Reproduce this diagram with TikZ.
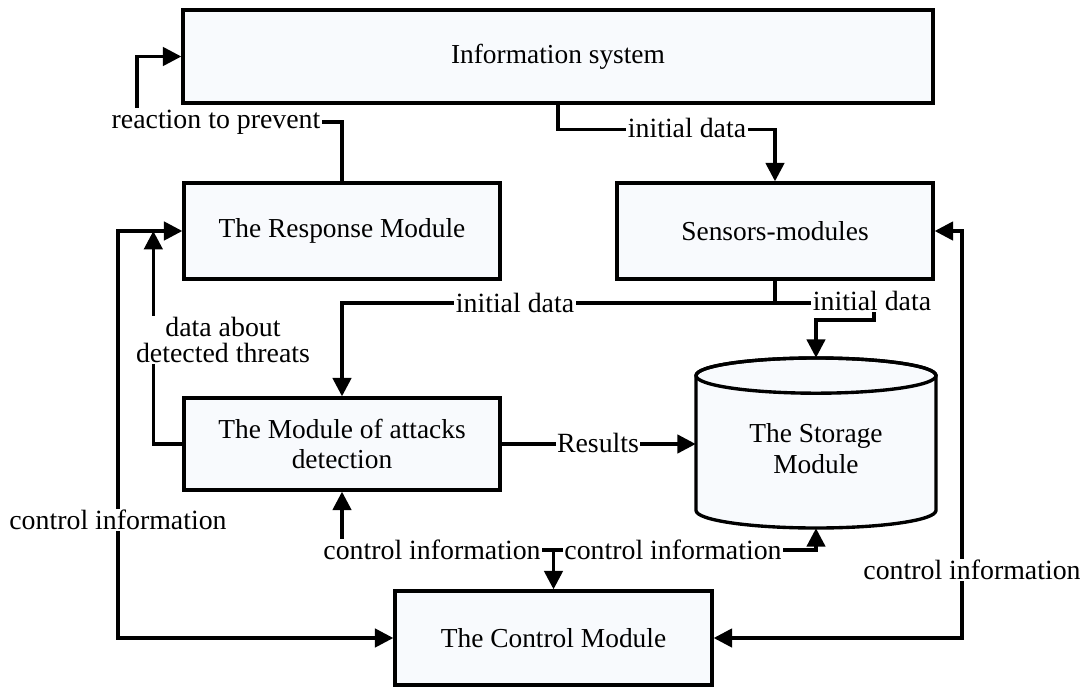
\documentclass[tikz,border=0pt]{standalone}
\usepackage{fontspec}
\setmainfont{Liberation Serif}
\usetikzlibrary{arrows.meta}
\definecolor{boxfill}{RGB}{248,250,253}

\begin{document}
\begin{tikzpicture}[>={Triangle[length=4.6mm,width=4.6mm]},
  box/.style={draw,line width=2.4pt,fill=boxfill,align=center,
  font=\fontsize{19.5}{22}\selectfont,minimum height=24mm,minimum width=79mm},
  lbl/.style={fill=white,inner sep=1pt,align=center,
  font=\fontsize{19.8}{18.5}\selectfont},
  edge/.style={->,line width=2.4pt}]
\useasboundingbox (0,0) rectangle (27.1,-17.175);
\node[box,minimum width=187.5mm,minimum height=23.25mm] (info) at (13.95,-1.4125) {Information system};
\node[box] (resp) at (8.55,-5.775) {The Response Module};
\node[box] (sens) at (19.375,-5.775) {Sensors-modules};
\node[box,minimum height=23mm] (det) at (8.55,-11.1) {The Module of attacks\\detection};
\node[box,minimum width=79.25mm,minimum height=23.5mm] (ctrl) at (13.8375,-15.95) {The Control Module};
% storage cylinder
\coordinate (stc) at (20.4,-11.075);
\draw[line width=2.4pt,fill=boxfill] ([shift={(-3,1.685)}]stc) -- ([shift={(-3,-1.685)}]stc)
  arc[start angle=180,end angle=360,x radius=3,y radius=0.44]
  -- ([shift={(3,1.685)}]stc)
  arc[start angle=0,end angle=180,x radius=3,y radius=0.44] -- cycle;
\draw[line width=2.4pt] ([shift={(0,1.685)}]stc) ellipse[x radius=3,y radius=0.44];
\node[minimum width=60mm,minimum height=42.5mm,align=center,
  font=\fontsize{19.5}{22}\selectfont] (store) at (stc) {\\The Storage\\Module};
% connectors
\coordinate (rp) at (3.425,-3.05);
\draw[edge] (resp.north) |- (rp) |- (info.west);
\draw[edge] (info.south) -- ++(0,-0.625) -| (sens.north);
\coordinate (sp) at (19.375,-7.575);
\draw[line width=2.4pt] (sens.south) -- (sp);
\draw[edge] (sp) -| (det.north);
\draw[edge] (sp) -- (21.85,-7.575) -- (21.85,-8.0) -| (store.north);
\draw[edge] (det.east) -- (det.east -| store.west);
\draw[edge] (det.west) -| ([xshift=-7.25mm]resp.west);
\draw[edge,<->] (resp.west) -- (2.95,-5.775) |- (ctrl.west);
\draw[edge,<->] (sens.east) -- (24.05,-5.775) |- (ctrl.east);
\coordinate (cj) at (13.8375,-13.75);
\draw[edge] (cj) -- (ctrl.north);
\draw[edge] (cj) -| (det.south);
\draw[edge] (cj) -| (store.south);
% labels
\node[lbl] (lreact) at (5.4,-3.05) {reaction to prevent};
\node[lbl] (linit1) at (17.175,-3.2) {initial data};
\node[lbl] (linit2) at (12.875,-7.575) {initial data};
\node[lbl] (linit3) at (21.8,-7.52) {initial data};
\node[lbl] (lthreat) at (5.575,-8.5) {data about\\detected threats};
\node[lbl] (lres) at (14.95,-11.075) {Results};
\node[lbl] (lctrl1) at (2.95,-13.0) {control information};
\node[lbl] (lctrl2) at (10.8,-13.75) {control information};
\node[lbl] (lctrl3) at (16.825,-13.75) {control information};
\node[lbl] (lctrl4) at (24.3,-14.25) {control information};
\end{tikzpicture}
\end{document}
